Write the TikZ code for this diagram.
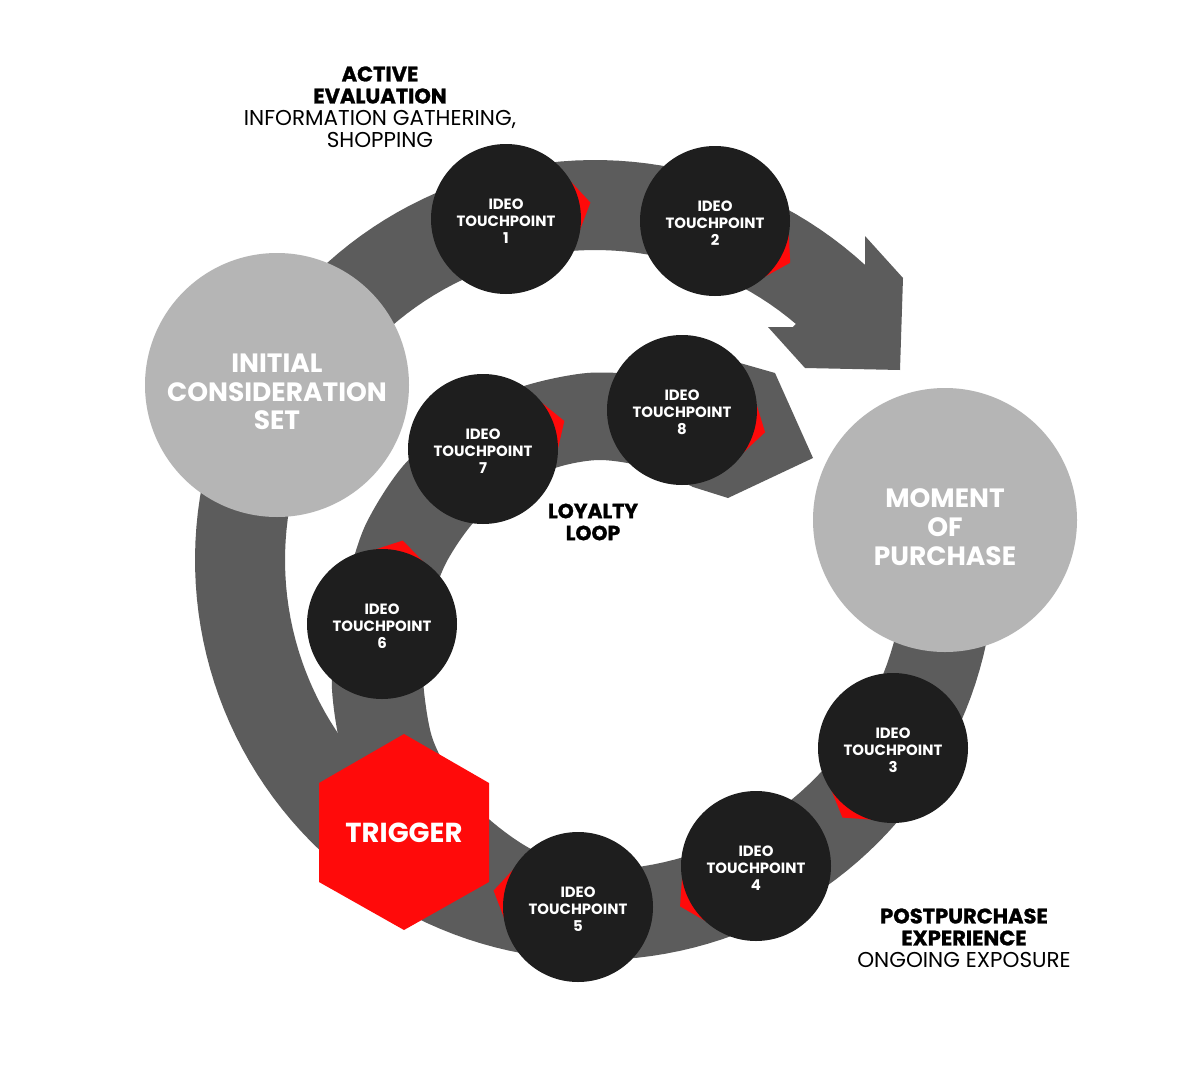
\documentclass[tikz,border=0pt]{standalone}
\usepackage{fontspec}
\setmainfont{Poppins}
\newfontfamily\heavyfont{Poppins}[BoldFeatures={FakeBold=1.2}]
\usetikzlibrary{calc}
\definecolor{bandgray}{HTML}{5C5C5C}
\definecolor{softgray}{HTML}{B5B5B5}
\definecolor{tpblack}{HTML}{1E1E1E}
\definecolor{hotred}{HTML}{FF0A0A}
\newcommand\redtip[2]{\fill[tipfill] ($(#1)+(#2:86)$) -- ($(#1)+(#2+33:73)$) -- (#1) -- ($(#1)+(#2-33:73)$) -- cycle;}
\newcommand\touchpoint[2]{\node[tp] (tp#1) at (#2) {};
  \node[tptext] (tp#1text) at ($(#2)+(0,2.5)$) {IDEO\\TOUCHPOINT\\#1};}
\begin{document}
\begin{tikzpicture}[x=1pt,y=-1pt,
  bandfill/.style={fill=bandgray},
  tipfill/.style={fill=hotred},
  bigcircle/.style={circle,fill=softgray,minimum size=264pt,inner sep=0pt},
  bigtext/.style={text=white,align=center,inner sep=0pt,font=\bfseries\fontsize{26.5}{28.7}\selectfont},
  tp/.style={circle,fill=tpblack,minimum size=150pt,inner sep=0pt},
  tptext/.style={text=white,align=center,inner sep=0pt,font=\bfseries\fontsize{14.9}{17}\selectfont},
  hdr/.style={align=center,inner sep=0pt,font=\fontsize{21.5}{22}\selectfont},
  heavy/.style={font=\heavyfont\bfseries\fontsize{21}{22}\selectfont}
]
\useasboundingbox (0,0) rectangle (1200,1092);
\fill[white] (0,0) rectangle (1200,1092);

% outer loop band with arrowhead
\fill[bandfill] plot[domain=-15:312.5,samples=160] ({595+400*cos(\x)},{560+400*sin(\x)})
  -- (865,236) -- (903,278) -- (900,370) -- (805,368) -- (768,327) -- (793,327)
  -- plot[domain=-15:310.4,samples=160] ({595+310*cos(295.4-\x)},{560+310*sin(295.4-\x)}) -- cycle;

% inner (loyalty) loop band with arrowhead
\fill[bandfill] plot[smooth] coordinates {(355,787) (339,739) (332,689) (334,640) (344,593) (365,526) (403,466) (456,420) (518,388) (587,373) (656,376) (702,386)}
  -- (740,363) -- (775,373) -- (813,458) -- (728,498) -- (693,487)
  -- plot[smooth] coordinates {(693,487) (650,468) (600,460) (555,468) (510,490) (473,523) (445,565) (428,615) (423,665) (425,700) (433,740) (455,782) (490,820) (533,850) (590,869) (640,868)}
  -- (640,930) -- (450,900) -- cycle;

% big circles
\node[bigcircle] (ics) at (277,385) {};
\node[bigcircle] (mop) at (945,520) {};
\node[bigtext] (icstext) at (277,392) {INITIAL\\CONSIDERATION\\SET};
\node[bigtext] (moptext) at (945,527) {MOMENT\\OF\\PURCHASE};

% touchpoint positions
\coordinate (c1) at (506,219);
\coordinate (c2) at (715,221);
\coordinate (c3) at (893,748);
\coordinate (c4) at (756,866);
\coordinate (c5) at (578,907);
\coordinate (c6) at (382,624);
\coordinate (c7) at (483,449);
\coordinate (c8) at (682,410);

% red tips
\redtip{c1}{-11}
\redtip{c2}{29}
\redtip{c3}{126}
\redtip{c4}{152}
\redtip{c5}{191}
\redtip{c6}{284}
\redtip{c7}{341}
\redtip{c8}{15}

% touchpoints
\touchpoint{1}{c1}
\touchpoint{2}{c2}
\touchpoint{3}{c3}
\touchpoint{4}{c4}
\touchpoint{5}{c5}
\touchpoint{6}{c6}
\touchpoint{7}{c7}
\touchpoint{8}{c8}

% trigger hexagon
\fill[tipfill] (404,734) -- (489,783) -- (489,882) -- (404,930) -- (319,882) -- (319,783) -- cycle;
\node[text=white,inner sep=0pt,font=\bfseries\fontsize{27.5}{30}\selectfont] (trigger) at (404,833) {TRIGGER};

% labels
\node[hdr] (active) at (380,107) {{\heavyfont\bfseries\fontsize{21}{22}\selectfont ACTIVE}\\{\heavyfont\bfseries\fontsize{21}{22}\selectfont EVALUATION}\\INFORMATION GATHERING,\\SHOPPING};
\node[hdr] (loyalty) at (593,522) {{\heavyfont\bfseries\fontsize{20.4}{20.5}\selectfont LOYALTY}\\{\heavyfont\bfseries\fontsize{20.4}{20.5}\selectfont LOOP}};
\node[hdr] (post) at (964,938) {{\heavyfont\bfseries\fontsize{21}{22}\selectfont POSTPURCHASE}\\{\heavyfont\bfseries\fontsize{21}{22}\selectfont EXPERIENCE}\\ONGOING EXPOSURE};
\end{tikzpicture}
\end{document}
